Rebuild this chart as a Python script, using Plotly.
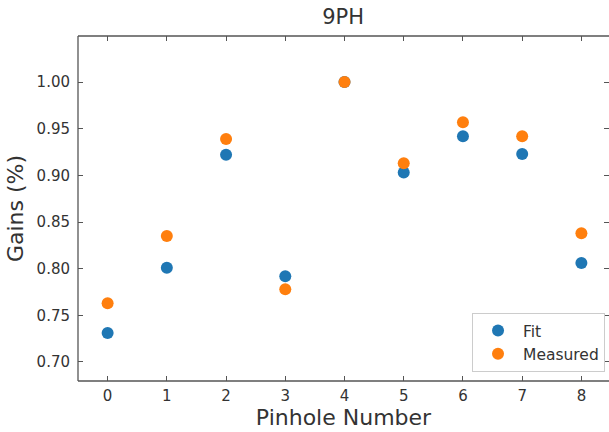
import plotly.graph_objects as go

pinholes = [0, 1, 2, 3, 4, 5, 6, 7, 8]
fit_gains = [0.731, 0.801, 0.922, 0.792, 1.000, 0.903, 0.942, 0.923, 0.806]
measured_gains = [0.763, 0.835, 0.939, 0.778, 1.000, 0.913, 0.957, 0.942, 0.838]
y_ticks = [0.70, 0.75, 0.80, 0.85, 0.90, 0.95, 1.00]

BLUE = "#1f77b4"
ORANGE = "#ff7f0e"
SPINE = "#555555"
TEXT = "#333333"
FONT = "DejaVu Sans"

fig = go.Figure()
fig.add_trace(go.Scatter(x=pinholes, y=fit_gains, mode="markers", name="Fit",
                         marker=dict(color=BLUE, size=12, line=dict(width=0))))
fig.add_trace(go.Scatter(x=pinholes, y=measured_gains, mode="markers", name="Measured",
                         marker=dict(color=ORANGE, size=12, line=dict(width=0))))

# spines (left, bottom, top); right spine lies just outside the canvas
for (x0, y0, x1, y1) in [(0, 0, 0, 1), (0, 0, 1, 0), (0, 1, 1, 1)]:
    fig.add_shape(type="line", xref="paper", yref="paper", x0=x0, y0=y0, x1=x1, y1=y1,
                  line=dict(color=SPINE, width=1.3), layer="above")

fig.update_layout(
    width=609, height=432,
    margin=dict(l=78, r=0, t=36, b=51),
    paper_bgcolor="white", plot_bgcolor="white",
    font=dict(family=FONT, color=TEXT, size=15),
    title=dict(text="9PH", x=0.5635, xanchor="center", xref="container",
               y=1 - 17 / 432, yanchor="middle", yref="container",
               font=dict(size=21, family=FONT, color=TEXT)),
    showlegend=True,
    legend=dict(x=0.9925, y=0.026, xanchor="right", yanchor="bottom",
                bgcolor="rgba(255,255,255,0.8)", bordercolor="#cccccc", borderwidth=1,
                font=dict(size=15.5, family=FONT, color=TEXT),
                itemsizing="constant", itemwidth=40, tracegroupgap=0),
)

fig.update_xaxes(
    range=[-0.5, 8.466], tickmode="array", tickvals=pinholes,
    ticktext=[str(p) for p in pinholes],
    ticks="inside", ticklen=5, tickwidth=1.2, tickcolor=SPINE,
    mirror="ticks", showline=False, showgrid=False, zeroline=False,
    tickfont=dict(size=15, family=FONT, color=TEXT),
    ticklabelstandoff=4,
    title=dict(text="Pinhole Number", font=dict(size=22, family=FONT, color=TEXT), standoff=4),
)
fig.update_yaxes(
    range=[0.6796, 1.0494], tickmode="array", tickvals=y_ticks,
    ticktext=[f"{v:.2f}" for v in y_ticks],
    ticks="inside", ticklen=5, tickwidth=1.2, tickcolor=SPINE,
    mirror="ticks", showline=False, showgrid=False, zeroline=False,
    tickfont=dict(size=15, family=FONT, color=TEXT),
    ticklabelstandoff=7,
    title=dict(text="Gains (%)", font=dict(size=22, family=FONT, color=TEXT), standoff=6),
)

fig.write_html("out.html")
